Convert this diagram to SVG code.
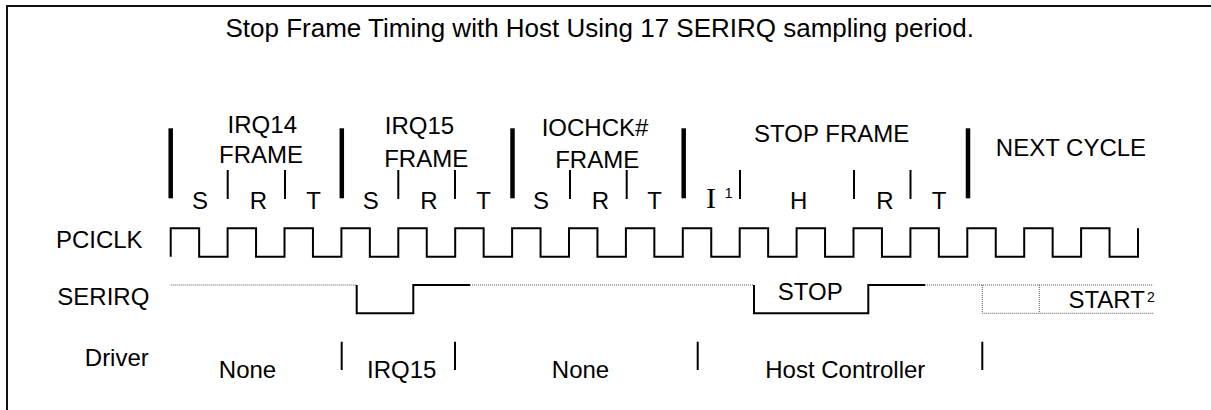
<svg xmlns="http://www.w3.org/2000/svg" width="1211" height="410" viewBox="0 0 1211 410">
<style>
text{font-family:"Liberation Sans",Arial,sans-serif;font-size:24px;fill:#000}
.t{font-size:26px}
.m{text-anchor:middle}
.serif{font-family:"Liberation Serif","Times New Roman",serif;font-size:30px}
.sup{font-size:14px;text-anchor:middle}
.bar{stroke:#000;stroke-width:4.5}
.tick{stroke:#000;stroke-width:2}
.wave{fill:none;stroke:#000;stroke-width:2;stroke-linejoin:miter}
.dot{fill:none;stroke:#555;stroke-width:1;stroke-dasharray:1 1}
</style>
<rect x="7" y="6" width="1230" height="430" fill="#fff" stroke="#111" stroke-width="2"/>
<text class="t" x="225.5" y="37.3">Stop Frame Timing with Host Using 17 SERIRQ sampling period.</text>

<g id="frames">
  <line class="bar" x1="170.7" y1="128.3" x2="170.7" y2="198.3"/>
  <line class="bar" x1="341.8" y1="128.3" x2="341.8" y2="198.3"/>
  <line class="bar" x1="512.5" y1="128.3" x2="512.5" y2="198.3"/>
  <line class="bar" x1="683.7" y1="128.3" x2="683.7" y2="198.3"/>
  <line class="bar" x1="968" y1="128.3" x2="968" y2="198.3"/>
  <line class="tick" x1="227.7" y1="170" x2="227.7" y2="199"/>
  <line class="tick" x1="285" y1="170" x2="285" y2="199"/>
  <line class="tick" x1="398.3" y1="170" x2="398.3" y2="199"/>
  <line class="tick" x1="455" y1="170" x2="455" y2="199"/>
  <line class="tick" x1="570" y1="170" x2="570" y2="199"/>
  <line class="tick" x1="626.7" y1="170" x2="626.7" y2="199"/>
  <line class="tick" x1="740" y1="170" x2="740" y2="199"/>
  <line class="tick" x1="854" y1="170" x2="854" y2="199"/>
  <line class="tick" x1="910.5" y1="170" x2="910.5" y2="199"/>
  <text class="m" x="262.3" y="132.7">IRQ14</text>
  <text class="m" x="261" y="163.3">FRAME</text>
  <text class="m" x="419.5" y="134.3">IRQ15</text>
  <text class="m" x="426.2" y="167.3">FRAME</text>
  <text class="m" x="595" y="136">IOCHCK#</text>
  <text class="m" x="597.2" y="168.3">FRAME</text>
  <text class="m" x="831.7" y="142.3">STOP FRAME</text>
  <text class="m" x="1071" y="155.7">NEXT CYCLE</text>
  <text class="m" x="200" y="209">S</text>
  <text class="m" x="258.3" y="209">R</text>
  <text class="m" x="313.7" y="209">T</text>
  <text class="m" x="370.8" y="209">S</text>
  <text class="m" x="429" y="209">R</text>
  <text class="m" x="483.7" y="209">T</text>
  <text class="m" x="541" y="209">S</text>
  <text class="m" x="600.5" y="209">R</text>
  <text class="m" x="654.5" y="209">T</text>
  <text class="serif m" x="711" y="208.3">I</text>
  <text class="sup" x="728.7" y="198.3">1</text>
  <text class="m" x="798.7" y="209">H</text>
  <text class="m" x="885" y="209">R</text>
  <text class="m" x="939.2" y="209">T</text>
</g>

<g id="labels">
  <text x="55.9" y="248.3">PCICLK</text>
  <text x="57.3" y="305">SERIRQ</text>
  <text x="84.8" y="366">Driver</text>
</g>

<g id="pciclk">
  <path class="wave" d="M170.7,256.7 V228.3 H199.15 V256.7 H227.6 V228.3 H256.05 V256.7 H284.5 V228.3 H312.95 V256.7 H341.4 V228.3 H369.85 V256.7 H398.3 V228.3 H426.75 V256.7 H455.2 V228.3 H483.65 V256.7 H512.1 V228.3 H540.55 V256.7 H569 V228.3 H597.45 V256.7 H625.9 V228.3 H654.35 V256.7 H682.8 V228.3 H711.25 V256.7 H739.7 V228.3 H768.15 V256.7 H796.6 V228.3 H825.05 V256.7 H853.5 V228.3 H881.95 V256.7 H910.4 V228.3 H938.85 V256.7 H967.3 V228.3 H995.75 V256.7 H1024.2 V228.3 H1052.65 V256.7 H1081.1 V228.3 H1109.55 V256.7 H1138 V228.3"/>
</g>

<g id="serirq">
  <line class="dot" x1="170.7" y1="285" x2="356.7" y2="285"/>
  <path class="wave" d="M356.7,285 V313.3 H413.3 V285 H470"/>
  <line class="dot" x1="470" y1="285" x2="754" y2="285"/>
  <path class="wave" d="M754,285 V313.3 H868.3 V285 H925"/>
  <line class="dot" x1="925" y1="285" x2="1153.3" y2="285"/>
  <line class="dot" x1="982.3" y1="285" x2="982.3" y2="313.3"/>
  <line class="dot" x1="1039.3" y1="285" x2="1039.3" y2="313.3"/>
  <line class="dot" x1="982.3" y1="313.3" x2="1153.3" y2="313.3"/>
  <text class="m" x="810.3" y="300">STOP</text>
  <text class="m" x="1106.7" y="307.7">START</text>
  <text class="sup" x="1150.8" y="302.3">2</text>
</g>

<g id="driver">
  <line class="tick" x1="341.7" y1="341.7" x2="341.7" y2="370"/>
  <line class="tick" x1="455" y1="341.7" x2="455" y2="370"/>
  <line class="tick" x1="697.7" y1="341.7" x2="697.7" y2="370"/>
  <line class="tick" x1="982.3" y1="341.7" x2="982.3" y2="370"/>
  <text class="m" x="247.5" y="378.3">None</text>
  <text class="m" x="401.7" y="378.3">IRQ15</text>
  <text class="m" x="580.5" y="378.3">None</text>
  <text class="m" x="845.3" y="378.3">Host Controller</text>
</g>
</svg>
